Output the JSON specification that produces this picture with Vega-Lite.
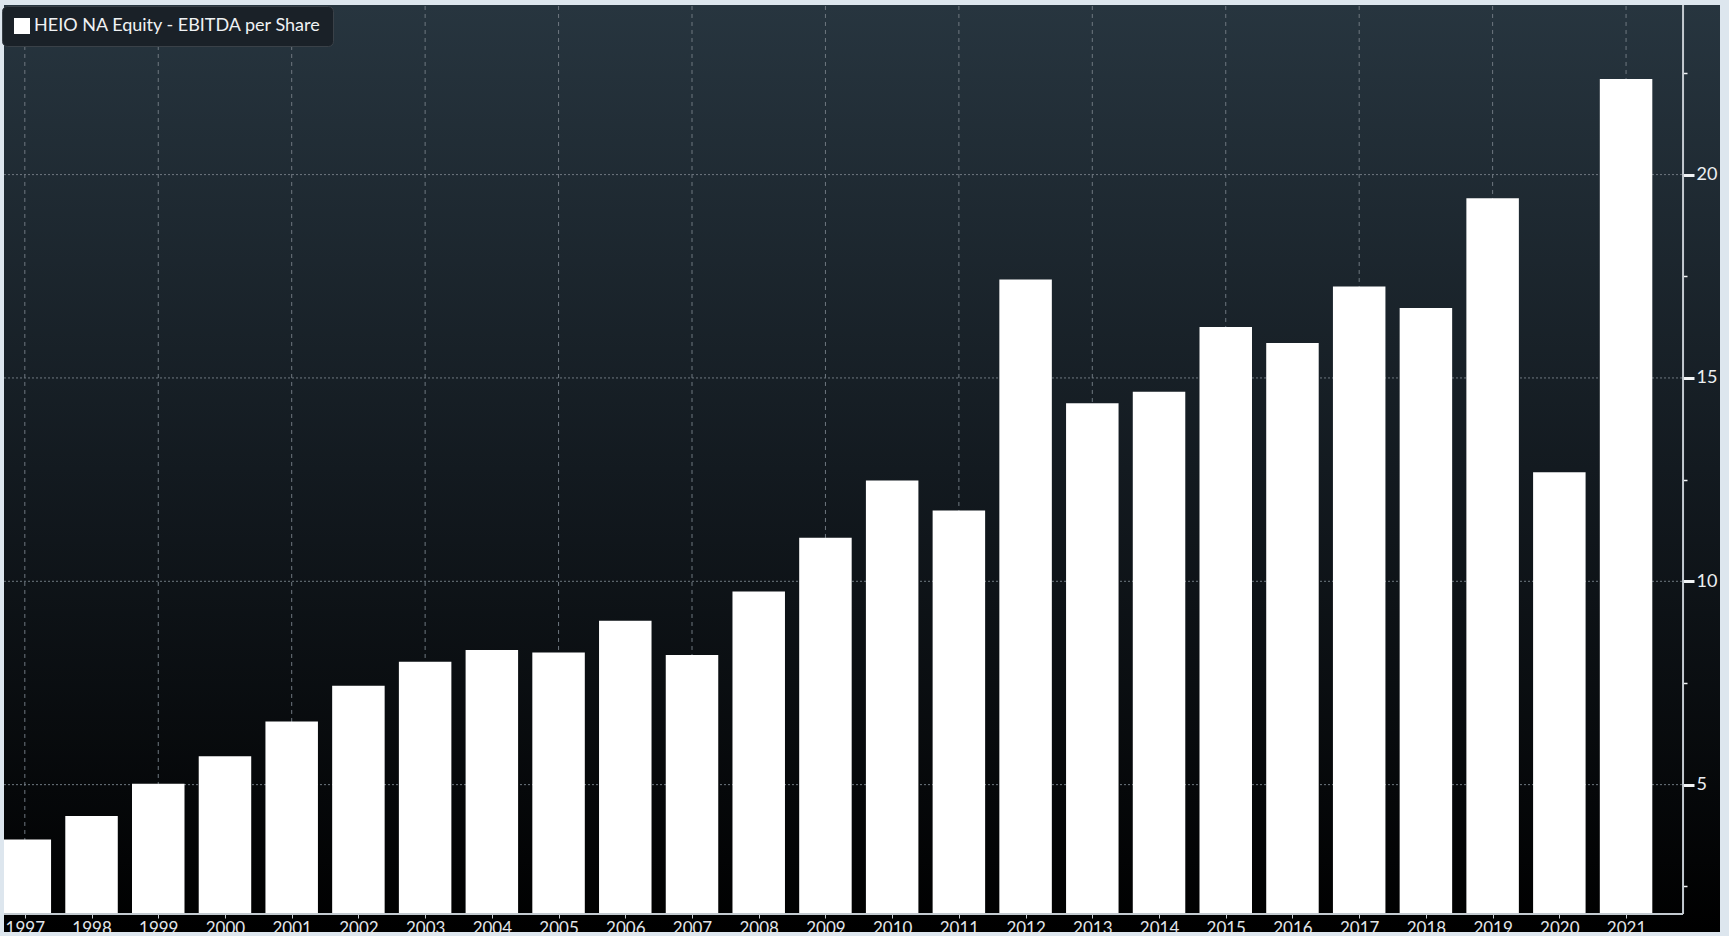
{
  "$schema": "https://vega.github.io/schema/vega-lite/v6.json",
  "width": 1716,
  "height": 927,
  "autosize": {"type": "none"},
  "padding": {"left": 4, "top": 5, "right": 9, "bottom": 4},
  "background": "#dde6ee",
  "config": {
    "view": {
      "stroke": null,
      "fill": {
        "gradient": "linear", "x1": 0, "y1": 0, "x2": 0, "y2": 1,
        "stops": [
          {"offset": 0, "color": "#27353f"},
          {"offset": 0.5, "color": "#131a20"},
          {"offset": 1, "color": "#000000"}
        ]
      }
    }
  },
  "resolve": {"axis": {"x": "independent", "y": "independent"}},
  "datasets": {
    "main": [
      {"year": 1997, "value": 3.65},
      {"year": 1998, "value": 4.23},
      {"year": 1999, "value": 5.02},
      {"year": 2000, "value": 5.70},
      {"year": 2001, "value": 6.55},
      {"year": 2002, "value": 7.43},
      {"year": 2003, "value": 8.02},
      {"year": 2004, "value": 8.31},
      {"year": 2005, "value": 8.25},
      {"year": 2006, "value": 9.03},
      {"year": 2007, "value": 8.19},
      {"year": 2008, "value": 9.75},
      {"year": 2009, "value": 11.07},
      {"year": 2010, "value": 12.48},
      {"year": 2011, "value": 11.74},
      {"year": 2012, "value": 17.42},
      {"year": 2013, "value": 14.38},
      {"year": 2014, "value": 14.66},
      {"year": 2015, "value": 16.25},
      {"year": 2016, "value": 15.86},
      {"year": 2017, "value": 17.25},
      {"year": 2018, "value": 16.72},
      {"year": 2019, "value": 19.42},
      {"year": 2020, "value": 12.68},
      {"year": 2021, "value": 22.35}
    ],
    "hgrid": [{"v": 5}, {"v": 10}, {"v": 15}, {"v": 20}],
    "one": [{"k": 1}]
  },
  "layer": [
    {
      "data": {"name": "main"},
      "transform": [{"filter": "datum.year % 2 === 1"}],
      "mark": {"type": "rule", "stroke": "#6f7880", "strokeWidth": 1, "strokeDash": [4, 4]},
      "encoding": {
        "x": {
          "field": "year", "type": "quantitative",
          "scale": {"domain": [1996.688, 2022.408], "nice": false, "zero": false, "padding": 0},
          "axis": {
            "orient": "bottom", "offset": -18, "title": null,
            "values": [1997,1998,1999,2000,2001,2002,2003,2004,2005,2006,2007,2008,2009,2010,2011,2012,2013,2014,2015,2016,2017,2018,2019,2020,2021],
            "format": "d", "domain": false, "grid": false,
            "tickColor": "#c8ced3", "tickSize": 4, "tickWidth": 1,
            "labelColor": "#e2e6ea", "labelFont": "Lato", "labelFontSize": 17,
            "labelPadding": 2, "labelFlush": false, "labelOverlap": false
          }
        },
        "y": {
          "datum": 1.82, "type": "quantitative",
          "scale": {"domain": [1.377, 24.17], "nice": false, "zero": false, "padding": 0},
          "axis": {
            "orient": "right", "offset": -37, "title": null,
            "values": [2.5, 5, 7.5, 10, 12.5, 15, 17.5, 20, 22.5],
            "labelExpr": "datum.value % 5 === 0 ? datum.label : ''",
            "domain": false, "grid": false,
            "tickColor": "#f2f4f6",
            "tickSize": {"condition": {"test": "datum.value % 5 === 0", "value": 11}, "value": 4},
            "tickWidth": {"condition": {"test": "datum.value % 5 === 0", "value": 3}, "value": 1.5},
            "labelColor": "#eceff2", "labelFont": "Lato", "labelFontSize": 18,
            "labelPadding": 2
          }
        },
        "y2": {"datum": 24.17}
      }
    },
    {
      "data": {"name": "hgrid"},
      "mark": {"type": "rule", "stroke": "#6f7880", "strokeWidth": 1, "strokeDash": [2, 2]},
      "encoding": {
        "y": {"field": "v", "type": "quantitative", "axis": null},
        "x": {"datum": 1996.688, "type": "quantitative", "axis": null},
        "x2": {"datum": 2021.854}
      }
    },
    {
      "data": {"name": "main"},
      "mark": {"type": "bar", "width": 52.5, "clip": true, "fill": "#ffffff"},
      "encoding": {
        "x": {"field": "year", "type": "quantitative", "axis": null},
        "y": {"field": "value", "type": "quantitative", "axis": null},
        "y2": {"datum": 1.82},
        "color": {
          "datum": "HEIO NA Equity - EBITDA per Share",
          "type": "nominal",
          "scale": {"range": ["#ffffff"]},
          "legend": {
            "title": null, "orient": "none", "legendX": -2, "legendY": 1,
            "fillColor": "#1a2128", "strokeColor": "#3a4148", "cornerRadius": 5,
            "padding": 11, "symbolType": "square", "symbolSize": 256,
            "symbolStrokeWidth": 0, "labelColor": "#f0f2f4", "labelFont": "Lato",
            "labelFontSize": 18, "labelOffset": 3, "labelLimit": 500
          }
        }
      }
    },
    {
      "data": {"name": "one"},
      "mark": {"type": "rule", "stroke": "#c3cad0", "strokeWidth": 2},
      "encoding": {
        "x": {"datum": 1996.688, "type": "quantitative", "axis": null},
        "x2": {"datum": 2021.854},
        "y": {"datum": 1.82, "type": "quantitative", "axis": null}
      }
    },
    {
      "data": {"name": "one"},
      "mark": {"type": "rule", "stroke": "#c3cad0", "strokeWidth": 2},
      "encoding": {
        "x": {"datum": 2021.854, "type": "quantitative", "axis": null},
        "y": {"datum": 1.82, "type": "quantitative", "axis": null},
        "y2": {"datum": 24.17}
      }
    }
  ]
}
